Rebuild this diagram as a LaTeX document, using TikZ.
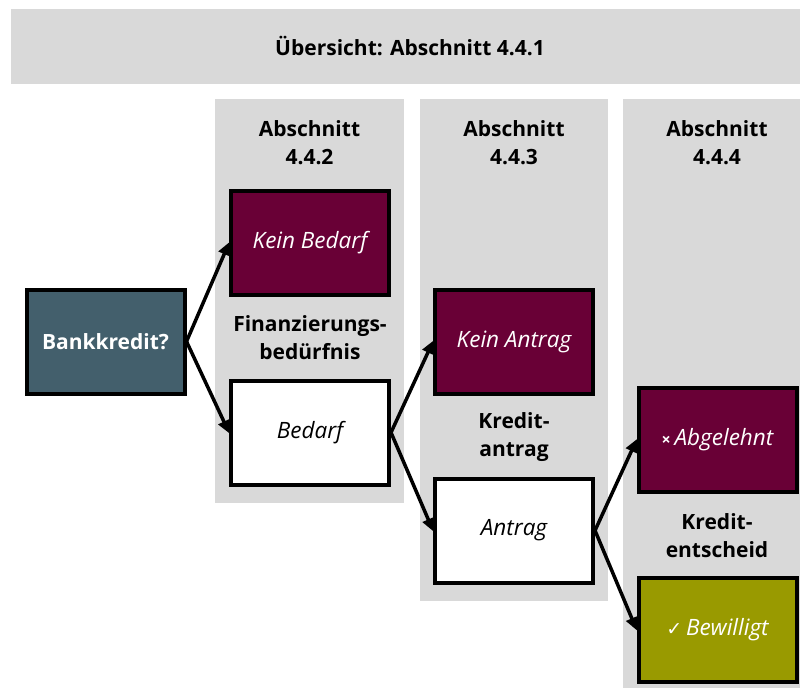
\documentclass[tikz,border=0pt]{standalone}
\usepackage{fontspec}
\setmainfont{Open Sans}
\newfontfamily\symfont{DejaVu Sans}
\usetikzlibrary{arrows.meta}
\definecolor{bgray}{HTML}{D9D9D9}
\definecolor{bteal}{HTML}{435F6C}
\definecolor{bwine}{HTML}{690036}
\definecolor{bolive}{HTML}{999A00}
\tikzset{
  panel/.style={fill=bgray, draw=none},
  boxbase/.style={draw=black, line width=4pt, minimum width=158pt, minimum height=104pt, inner sep=0pt, align=center},
  itfont/.style={font=\fontsize{22.5}{26}\selectfont\itshape},
  darkbox/.style={boxbase, fill=bwine, text=white, itfont},
  whitebox/.style={boxbase, fill=white, text=black, itfont},
  startbox/.style={boxbase, fill=bteal, text=white, font=\fontsize{21}{26}\selectfont\bfseries},
  okbox/.style={boxbase, fill=bolive, text=white, itfont},
  lbl/.style={align=center, font=\fontsize{21}{28}\selectfont\bfseries, inner sep=0pt},
  conn/.style={line width=3.5pt, -{Triangle[length=13pt, width=12pt]}, shorten >=-1pt}
}
\begin{document}
\begin{tikzpicture}[x=1pt, y=-1pt]
\useasboundingbox (0,0) rectangle (800,688);
% panels
\path[panel] (11,9) rectangle (800,84);
\path[panel] (215,99) rectangle (404,503);
\path[panel] (420,99) rectangle (608,601);
\path[panel] (623,99) rectangle (800,688);
% labels
\node[lbl] (title) at (410,46) {Übersicht: Abschnitt 4.4.1};
\node[lbl] (h1) at (309.5,143) {Abschnitt\\4.4.2};
\node[lbl] (h2) at (514,143) {Abschnitt\\4.4.3};
\node[lbl] (h3) at (717,143) {Abschnitt\\4.4.4};
\node[lbl] (l1) at (310,338) {Finanzierungs-\\bedürfnis};
\node[lbl] (l2) at (514,437) {Kredit-\\antrag};
\node[lbl] (l3) at (717,536) {Kredit-\\entscheid};
% boxes
\node[startbox] (bank) at (105.5,341.5) {Bankkredit?};
\node[darkbox] (kb) at (310,243) {Kein Bedarf};
\node[whitebox] (b) at (310,432.5) {Bedarf};
\node[darkbox] (ka) at (514,341.5) {Kein Antrag};
\node[whitebox] (a) at (514,530.5) {Antrag};
\node[darkbox] (ab) at (717.5,440) {{\upshape\bfseries\fontsize{16}{16}\selectfont ×}\,Abgelehnt};
\node[okbox] (bw) at (717.5,629.5) {{\symfont\upshape\fontsize{19}{19}\selectfont ✓}\,Bewilligt};
% connectors
\draw[conn] (bank.east) -- (kb.west);
\draw[conn] (bank.east) -- (b.west);
\draw[conn] (b.east) -- (ka.west);
\draw[conn] (b.east) -- (a.west);
\draw[conn] (a.east) -- (ab.west);
\draw[conn] (a.east) -- (bw.west);
\end{tikzpicture}
\end{document}
